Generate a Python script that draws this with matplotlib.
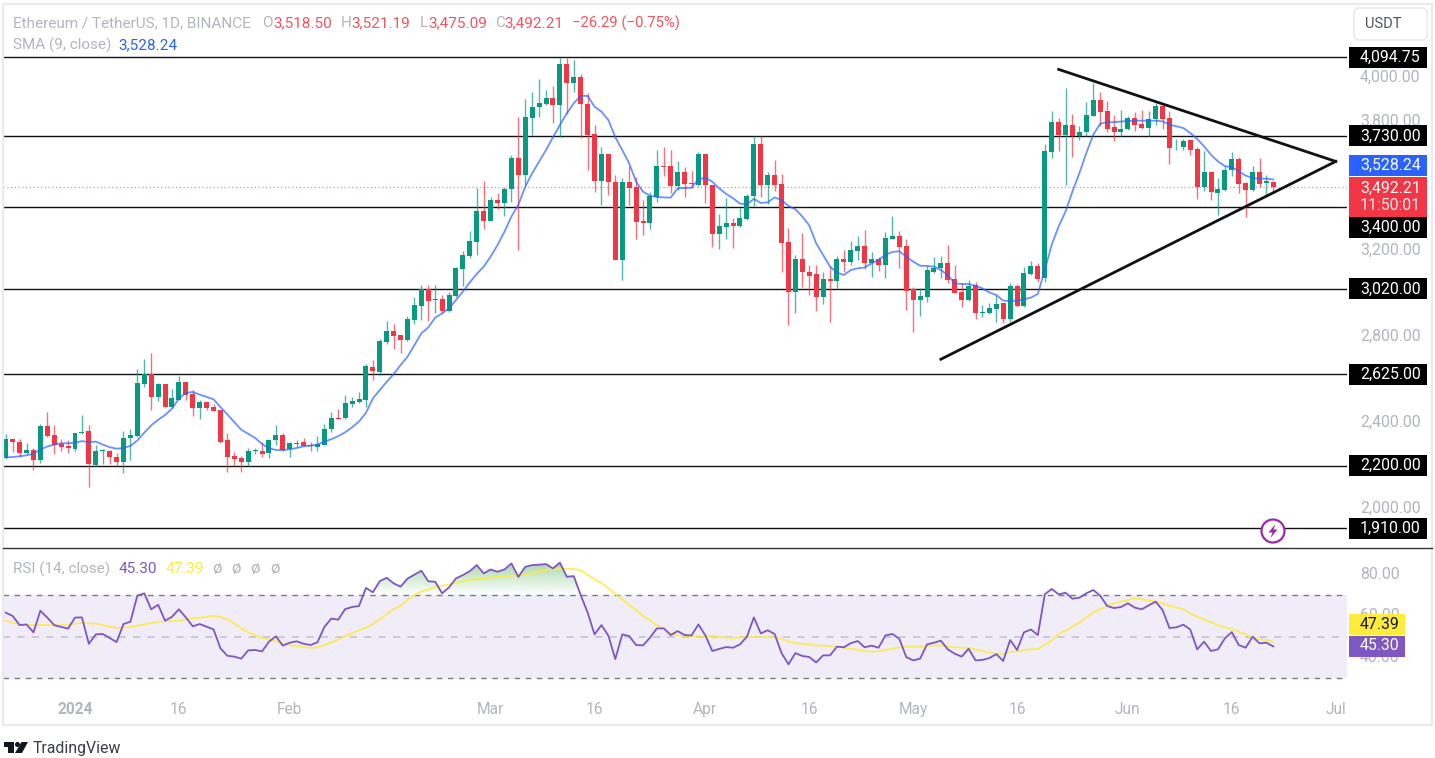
import numpy as np
import pandas as pd
import matplotlib
matplotlib.use("Agg")
import matplotlib.pyplot as plt
import matplotlib.dates as mdates
from matplotlib.patches import Rectangle, Circle, Polygon, FancyBboxPatch
from matplotlib.path import Path
from matplotlib.colors import to_rgb

plt.rcParams["font.family"] = ["Roboto", "DejaVu Sans"]

opens = [2236,2325,2309,2259,2273,2226,2382,2343,2301,2290,
         2278,2352,2359,2205,2268,2267,2239,2219,2328,2340,
         2581,2625,2519,2580,2472,2507,2589,2532,2468,2494,
         2471,2457,2317,2245,2236,2219,2267,2268,2258,2317,
         2343,2278,2303,2309,2298,2289,2298,2370,2423,2420,
         2487,2496,2507,2659,2637,2774,2825,2806,2785,2877,
         2943,3020,2970,2973,2918,2989,3113,3175,3240,3382,
         3337,3433,3418,3484,3628,3549,3815,3863,3877,3905,
         3874,4064,3977,4002,3878,3739,3521,3645,3518,3155,
         3518,3492,3335,3328,3449,3589,3591,3500,3561,3513,
         3503,3646,3503,3275,3309,3326,3312,3346,3450,3693,
         3503,3547,3506,3238,3004,3158,3100,3088,2984,3065,
         3056,3158,3144,3196,3219,3139,3158,3131,3254,3266,
         3219,3020,2970,2984,3100,3116,3139,3066,3008,2969,
         3038,2910,2909,2929,2953,2882,3036,2943,3090,3125,
         3070,3658,3794,3736,3783,3728,3747,3825,3897,3845,
         3770,3747,3761,3815,3784,3766,3809,3868,3815,3682,
         3679,3710,3671,3493,3563,3465,3480,3570,3625,3511,
         3480,3564,3511,3518.50]
highs = [2345,2329,2325,2306,2282,2395,2449,2387,2325,2320,
         2353,2433,2387,2296,2278,2273,2258,2359,2371,2647,
         2693,2722,2585,2580,2555,2617,2594,2550,2504,2494,
         2485,2460,2353,2262,2244,2282,2282,2309,2325,2391,
         2351,2309,2321,2328,2309,2337,2395,2449,2465,2527,
         2520,2543,2670,2690,2786,2871,2857,2806,2895,2984,
         3039,3039,3039,2992,3008,3124,3196,3289,3487,3523,
         3448,3464,3492,3642,3820,3900,3933,3995,3943,3962,
         4094,4094,4083,4016,3928,3781,3677,3645,3547,3534,
         3591,3541,3433,3472,3665,3677,3665,3615,3588,3568,
         3654,3646,3503,3368,3444,3348,3397,3459,3730,3730,
         3561,3619,3554,3305,3178,3278,3130,3131,3097,3127,
         3173,3201,3244,3266,3294,3193,3170,3283,3359,3289,
         3250,3028,3023,3128,3170,3173,3224,3131,3046,3062,
         3054,2946,2956,2992,2953,3046,3042,3121,3150,3139,
         3694,3845,3814,3953,3832,3775,3888,3976,3933,3891,
         3826,3849,3821,3840,3849,3845,3883,3883,3845,3716,
         3716,3713,3677,3662,3563,3535,3589,3657,3631,3516,
         3592,3628,3550,3521.19]
lows = [2231,2262,2242,2254,2180,2211,2335,2254,2270,2259,
        2270,2345,2099,2200,2208,2208,2200,2164,2226,2332,
        2566,2457,2500,2472,2468,2504,2507,2429,2415,2457,
        2454,2306,2169,2197,2173,2197,2254,2239,2236,2298,
        2267,2242,2289,2290,2270,2267,2295,2356,2417,2415,
        2473,2493,2473,2596,2623,2764,2740,2723,2780,2857,
        2876,2871,2910,2910,2912,2984,3035,3165,3178,3298,
        3335,3393,3360,3425,3201,3503,3735,3820,3874,3792,
        3724,3832,3936,3722,3572,3469,3411,3456,3155,3062,
        3410,3253,3271,3300,3422,3544,3464,3479,3448,3490,
        3499,3417,3216,3206,3252,3212,3306,3340,3405,3448,
        3414,3476,3100,2853,2910,3028,2992,2918,2950,2868,
        3020,3100,3130,3154,3111,3074,3103,3069,3254,3116,
        2922,2822,2895,2961,3092,3073,3049,3000,2938,2964,
        2881,2892,2904,2868,2864,2868,2938,2935,3085,3054,
        3054,3628,3659,3504,3631,3710,3732,3821,3778,3747,
        3705,3728,3756,3755,3762,3731,3783,3762,3601,3666,
        3666,3643,3437,3477,3431,3364,3476,3546,3465,3356,
        3473,3493,3453,3475.09]
closes = [2325,2309,2259,2273,2226,2382,2340,2298,2289,2281,
          2353,2356,2208,2267,2271,2239,2219,2329,2343,2584,
          2625,2519,2578,2472,2513,2589,2527,2468,2494,2468,
          2454,2312,2242,2231,2219,2267,2271,2254,2320,2343,
          2275,2306,2306,2293,2290,2303,2371,2423,2417,2492,
          2500,2509,2661,2639,2778,2825,2803,2785,2881,2947,
          3020,2966,2973,2919,2992,3116,3178,3243,3382,3337,
          3433,3418,3486,3628,3549,3820,3866,3882,3905,3874,
          4064,3977,4002,3878,3735,3521,3645,3516,3155,3518,
          3487,3332,3328,3452,3589,3586,3500,3561,3507,3506,
          3646,3503,3275,3312,3326,3312,3349,3453,3693,3503,
          3547,3503,3235,3004,3159,3097,3082,2984,3065,3056,
          3158,3144,3201,3219,3139,3159,3131,3257,3266,3215,
          3012,2970,2989,3107,3119,3139,3060,3003,2969,3035,
          2909,2913,2932,2950,2882,3036,2941,3093,3125,3067,
          3660,3794,3736,3783,3728,3750,3826,3897,3840,3764,
          3747,3764,3815,3781,3766,3811,3868,3809,3676,3685,
          3707,3666,3493,3563,3470,3484,3573,3625,3508,3480,
          3564,3508,3522,3492.21]
sma9 = [2239,2240,2244,2248,2256,2275,2289,2298,2304,2304,
        2307,2314,2309,2312,2298,2286,2279,2282,2292,2317,
        2353,2387,2413,2435,2465,2511,2538,2542,2530,2519,
        2508,2472,2438,2402,2367,2348,2329,2301,2281,2273,
        2272,2276,2282,2290,2293,2298,2312,2323,2337,2355,
        2378,2405,2445,2512,2551,2589,2625,2667,2706,2760,
        2814,2842,2887,2907,2930,2969,3008,3051,3090,3124,
        3170,3224,3286,3356,3410,3495,3557,3611,3665,3724,
        3781,3835,3882,3916,3916,3866,3843,3804,3724,3665,
        3603,3518,3472,3453,3447,3445,3444,3487,3489,3490,
        3529,3537,3518,3487,3461,3441,3416,3413,3438,3419,
        3422,3445,3433,3405,3390,3356,3315,3232,3178,3124,
        3096,3085,3108,3116,3120,3139,3155,3178,3192,3195,
        3170,3147,3128,3127,3124,3108,3085,3046,3043,3043,
        3035,3023,3004,2992,2966,2964,2966,2972,2980,2997,
        3108,3225,3310,3380,3473,3558,3651,3736,3787,3794,
        3794,3797,3800,3801,3801,3801,3801,3798,3783,3775,
        3767,3744,3716,3682,3643,3612,3590,3586,3566,3546,
        3535,3532,3532,3528.24]
rsi = [61.6,60.0,55.6,55.9,52.1,62.5,59.2,55.6,54.7,53.9,
       59.2,59.3,46.6,51.1,51.3,49.4,47.4,56.1,57.2,69.8,
       70.9,63.2,65.4,57.7,59.6,63.2,59.3,55.0,56.1,54.8,
       53.5,44.4,40.8,40.4,39.4,43.4,43.6,42.9,47.6,50.2,
       45.7,47.1,47.8,46.6,46.0,47.3,54.7,58.7,58.2,
       63.3,64.3,64.8,73.5,71.4,76.8,78.4,75.7,74.1,78.0,
       79.9,81.8,76.7,76.5,70.9,73.8,78.1,79.7,81.6,84.5,
       80.5,82.4,81.3,82.4,85.3,78.8,83.7,84.5,84.7,85.0,
       82.9,85.7,78.9,79.2,70.1,61.7,51.1,55.6,50.5,39.2,
       51.1,50.3,46.0,45.8,49.5,54.0,54.0,50.8,52.7,
       50.8,50.6,55.9,50.6,43.1,44.1,45.0,44.7,46.3,50.0,
       59.3,51.6,53.1,51.3,42.1,36.7,42.1,40.7,40.2,37.6,
       41.0,41.0,45.2,44.9,46.9,47.9,44.9,45.7,44.7,50.6,
       51.3,49.0,40.2,38.6,39.4,46.3,47.1,48.1,43.9,41.8,
       40.4,44.2,38.6,38.8,39.7,41.6,38.3,48.4,43.6,
       52.1,53.5,50.8,70.4,73.0,70.4,71.2,68.3,68.8,70.9,
       72.5,69.8,64.8,63.8,64.3,66.1,64.0,63.2,65.1,66.9,
       62.9,54.2,54.5,55.8,53.5,43.9,47.6,43.1,43.9,49.2,
       52.2,46.0,44.7,50.0,46.8,47.1,45.30]
rsi_ma = [57.7,56.7,55.9,55.6,55.6,55.6,55.6,55.5,55.5,55.8,
          56.3,56.6,56.4,56.3,55.6,54.8,54.3,54.3,54.7,55.3,
          55.9,56.6,57.2,57.4,57.6,57.6,58.4,58.8,59.2,59.6,
          60.0,59.5,58.4,56.4,54.0,52.1,50.6,49.5,48.6,47.8,
          46.8,46.0,45.5,45.0,44.7,44.9,46.0,47.3,48.6,
          50.3,51.6,53.1,54.3,56.1,58.5,60.8,63.2,64.9,67.7,
          70.1,71.7,72.7,73.9,74.6,75.2,76.0,76.7,77.3,77.8,
          78.0,78.4,78.8,79.2,79.4,79.7,80.0,80.5,81.5,82.3,
          82.6,82.8,82.8,82.6,82.0,79.9,77.6,75.9,73.3,70.6,
          68.0,65.3,62.9,60.0,57.9,55.6,53.7,51.6,50.6,
          50.3,50.3,50.2,50.2,50.3,50.0,49.5,49.4,49.7,49.8,
          49.8,49.8,49.8,49.7,48.9,47.8,46.9,46.5,46.3,45.8,
          45.7,45.5,45.3,44.7,44.1,43.7,43.1,42.8,42.9,43.7,
          44.2,44.9,45.2,45.2,45.2,45.5,45.8,45.8,45.3,44.9,
          44.7,44.5,43.9,43.1,42.3,41.8,41.8,42.8,42.9,
          43.6,43.9,44.1,46.0,48.1,51.3,52.9,54.8,56.9,59.3,
          61.6,63.2,64.8,66.1,66.9,67.7,68.5,68.0,67.5,66.9,
          66.1,64.9,64.0,63.2,61.2,59.6,58.4,56.9,55.6,54.5,
          53.7,52.4,51.1,49.7,48.7,48.4,47.39]

level_prices = [4094.75, 3730.00, 3400.00, 3020.00, 2625.00, 2200.00, 1910.00]
price_ticks = [4000, 3800, 3200, 2800, 2400, 2000]
rsi_ticks = [80, 60, 40]
last_close = 3492.21
sma_last = 3528.24
rsi_last = 45.30
rsi_ma_last = 47.39
time_ticks = ["2024-01-01", "2024-01-16", "2024-02-01", "2024-03-01", "2024-03-16", "2024-04-01",
              "2024-04-16", "2024-05-01", "2024-05-16", "2024-06-01", "2024-06-16", "2024-07-01"]
time_labels = ["2024", "16", "Feb", "Mar", "16", "Apr", "16", "May", "16", "Jun", "16", "Jul"]
lower_trend_x = ["2024-05-05", "2024-07-01"]
lower_trend_y = [2694, 3612]
upper_trend_x = ["2024-05-22", "2024-07-01"]
upper_trend_y = [4039, 3612]

GREEN = "#089981"
RED = "#F23645"
BLUE = "#2962FF"
PURPLE = "#7E57C2"
YELLOW = "#FFEB3B"
GRAY = "#B2B5BE"

W, H = 1435, 758
fig = plt.figure(figsize=(W / 100, H / 100), dpi=100, facecolor="white")


def px_axes(x0, y0, x1, y1):
    return fig.add_axes([x0 / W, 1 - y1 / H, (x1 - x0) / W, (y1 - y0) / H])


dates = mdates.date2num(pd.date_range("2023-12-22", periods=len(closes)))
jan1 = mdates.date2num(pd.Timestamp("2024-01-01"))
day_px = 6.927
xlim = (jan1 + (3 - 75) / day_px, jan1 + (1347 - 75) / day_px)

# price pane
ax = px_axes(3, 8, 1347, 547)
o = np.array(opens)
h = np.array(highs)
l = np.array(lows)
c = np.array(closes)
colors = np.where(c >= o, GREEN, RED)

for p in level_prices:
    ax.axhline(p, color="#111111", lw=1.0, zorder=1)
ax.axhline(last_close, color=RED, lw=0.9, ls=(0, (1, 2)), alpha=0.6, zorder=1)
ax.vlines(dates, l, h, colors=colors, lw=1, alpha=0.7, zorder=2)
ax.bar(dates, np.abs(c - o), bottom=np.minimum(o, c), width=5 / day_px, color=colors, lw=0, zorder=3)
ax.plot(dates, sma9, color=BLUE, lw=1.3, alpha=0.7, zorder=4)
ax.plot(mdates.date2num(pd.to_datetime(lower_trend_x)), lower_trend_y, color="#111111", lw=2, zorder=5)
ax.plot(mdates.date2num(pd.to_datetime(upper_trend_x)), upper_trend_y, color="#111111", lw=2, zorder=5)

ax.set_xlim(xlim)
ax.set_ylim(4000 - (547 - 77.8) / 0.2155, 4000 - (8 - 77.8) / 0.2155)
ax.set_xticks([])
ax.yaxis.tick_right()
ax.set_yticks(price_ticks)
ax.set_yticklabels([f"{t:,.2f}" for t in price_ticks], va="center")
ax.tick_params(axis="y", length=0, pad=9.4, labelsize=11.4, labelcolor=GRAY)
for s in ax.spines.values():
    s.set_visible(False)

# rsi pane
ax2 = px_axes(3, 549, 1347, 697)
r = np.array(rsi)
ax2.axhspan(30, 70, color=PURPLE, alpha=0.11, lw=0, zorder=0)
ax2.axhline(70, color="#787B86", lw=1, ls=(0, (4, 4)), zorder=1)
ax2.axhline(50, color="#C9C8D2", lw=1.3, ls=(0, (4, 4)), zorder=1)
ax2.axhline(30, color="#787B86", lw=1, ls=(0, (4, 4)), zorder=1)

over = ax2.fill_between(dates, 70, r, where=r > 70, interpolate=True, color="none", lw=0)
grad = np.zeros((256, 1, 4))
grad[:, 0, :3] = to_rgb("#4CAF50")
grad[:, 0, 3] = np.linspace(0, 0.5, 256)
im = ax2.imshow(grad, origin="lower", aspect="auto", extent=(dates[0], dates[-1], 70, 86), zorder=1.5)
im.set_clip_path(Path.make_compound_path(*over.get_paths()), transform=ax2.transData)

ax2.plot(dates, rsi_ma, color=YELLOW, lw=1.3, alpha=0.85, zorder=2)
ax2.plot(dates, rsi, color=PURPLE, lw=1.3, zorder=3)
ax2.set_xlim(xlim)
ax2.set_ylim(50 - (697 - 636.7) / 2.075, 50 + (636.7 - 549) / 2.075)
ax2.yaxis.tick_right()
ax2.set_yticks(rsi_ticks)
ax2.set_yticklabels([f"{t:.2f}" for t in rsi_ticks], va="center")
ax2.tick_params(axis="y", length=0, pad=9.4, labelsize=11.4, labelcolor=GRAY)
ax2.set_xticks(mdates.date2num(pd.to_datetime(time_ticks)))
ax2.set_xticklabels(time_labels)
ax2.tick_params(axis="x", length=0, pad=3.4, labelsize=11.2, labelcolor=GRAY)
ax2.get_xticklabels()[0].set_fontweight("bold")
for s in ax2.spines.values():
    s.set_visible(False)

# frame, tags and header drawn over the panes in pixel coordinates
top = fig.add_axes([0, 0, 1, 1], zorder=10)
top.set_xlim(0, W)
top.set_ylim(H, 0)
top.axis("off")
top.patch.set_alpha(0)

top.add_patch(Rectangle((2.5, 3.5), 1429, 721.5, fc="none", ec="#E9EBF1", lw=1.6))
top.plot([3, 1432], [548, 548], color="#333333", lw=1)


def price_y(p):
    return H - ax.transData.transform((dates[0], p))[1]


def tag(y, text, bg=None, fg="white", x0=1349, x1=1427, height=21):
    top.add_patch(Rectangle((x0, y - height / 2), x1 - x0, height, fc=bg, ec="none"))
    top.text(1360, y, text, color=fg, fontsize=11.4, va="center", ha="left")


for p in level_prices:
    y = price_y(p)
    if p == 3400:
        y = 227
    tag(y, f"{p:,.2f}", "#000000")
tag(165.5, f"{sma_last:,.2f}", BLUE)
top.add_patch(Rectangle((1349, 177), 78, 39.5, fc=RED, ec="none"))
top.text(1360, 188, f"{last_close:,.2f}", color="white", fontsize=11.4, va="center")
top.text(1360, 205, "11:50:01", color="white", fontsize=11.4, va="center", alpha=0.9)
tag(624.5, f"{rsi_ma_last:.2f}", "#FFEB3B", "#131722", x1=1405)
tag(646, f"{rsi_last:.2f}", PURPLE, "white", x1=1405)

top.add_patch(FancyBboxPatch((1356, 10), 69, 28, boxstyle="round,pad=2,rounding_size=5", fc="white", ec="#E9EBF1", lw=1.2))
top.text(1383, 24, "USDT", color="#50535E", fontsize=10.5, ha="center", va="center")

y1 = 23
top.text(13, y1, "Ethereum / TetherUS, 1D, BINANCE", color=GRAY, fontsize=11, va="center")
header = [(262, "O", 273, "3,518.50"), (341, "H", 351, "3,521.19"), (420, "L", 428, "3,475.09"), (495, "C", 504.5, "3,492.21")]
for x_a, a, x_b, b in header:
    top.text(x_a, y1, a, color=GRAY, fontsize=11, va="center")
    top.text(x_b, y1, b, color="#F7525F", fontsize=11, va="center")
top.text(572, y1, "\u221226.29 (\u22120.75%)", color="#F7525F", fontsize=10.7, va="center")
top.text(13, 45, "SMA (9, close)", color=GRAY, fontsize=11, va="center")
top.text(118, 45, f"{sma_last:,.2f}", color=BLUE, fontsize=11, va="center")

top.text(13, 569, "RSI (14, close)", color=GRAY, fontsize=11, va="center")
top.text(119, 569, f"{rsi_last:.2f}", color=PURPLE, fontsize=11, va="center")
top.text(166, 569, f"{rsi_ma_last:.2f}", color=YELLOW, fontsize=11, va="center")
for x_n in [217, 236, 255, 275]:
    top.text(x_n, 569, "\u00f8", color=GRAY, fontsize=12, va="center", ha="center")

# lightning badge
top.add_patch(Circle((1273, 531), 11.5, fc="white", ec="#9C27B0", lw=1.6))
top.add_patch(Polygon([(1275.5, 524), (1268.5, 532.5), (1272.5, 532.5), (1270.5, 538), (1277.5, 529.5), (1273.5, 529.5)],
                      fc="#9C27B0", ec="none"))

# TradingView logo
top.add_patch(Polygon([(3.5, 742), (14, 742), (14, 753), (8, 753), (8, 747), (3.5, 747)], fc="#131722", ec="none"))
top.add_patch(Circle((17.5, 744.5), 2.5, fc="#131722", ec="none"))
top.add_patch(Polygon([(21.5, 742), (28, 742), (22, 753), (15, 753)], fc="#131722", ec="none"))
top.text(33, 748, "TradingView", color="#3A3D46", fontsize=11.4, va="center")

fig.savefig("out.png", dpi=100)
